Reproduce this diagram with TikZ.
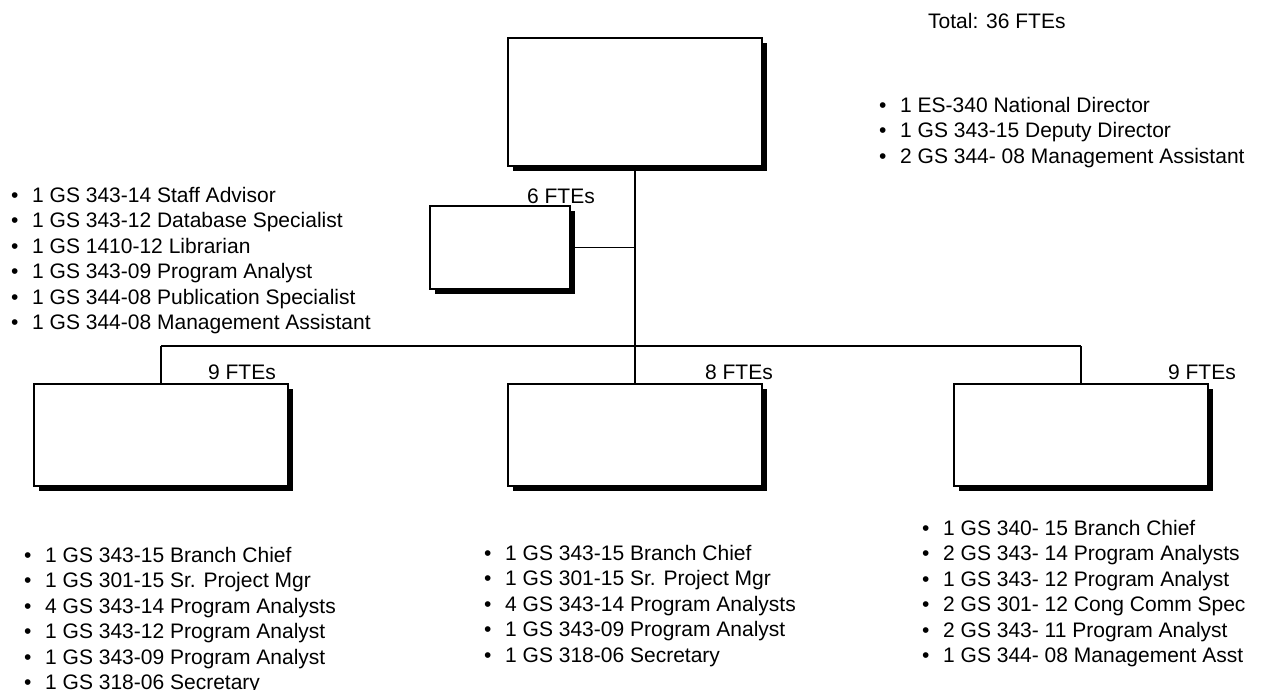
\documentclass[tikz,border=0pt]{standalone}
\usepackage{fontspec}
\setmainfont{Liberation Sans}
\usetikzlibrary{shadows}

\newcommand{\itm}[1]{\makebox[21pt][l]{\textbullet}#1}

\begin{document}
\begin{tikzpicture}[
  x=1pt, y=-1pt,
  every node/.style={font=\fontsize{21}{25.4}\selectfont, inner sep=0pt},
  unit/.style    ={draw, line width=1.6pt, fill=white,
                   drop shadow={shadow xshift=5pt, shadow yshift=-5pt,
                                fill=black, opacity=1}},
  topunit/.style ={unit, minimum width=254pt, minimum height=128pt},
  subunit/.style ={unit, minimum width=254pt, minimum height=102pt},
  staffunit/.style={unit, minimum width=140pt, minimum height=83pt},
  list/.style    ={anchor=north west, align=left},
  fte/.style     ={anchor=east},
  link/.style    ={line width=1.5pt},
]
  \useasboundingbox (0,0) rectangle (1261,689);

  % boxes
  \node[topunit]   (natl)    at (635,102)   {};
  \node[staffunit] (staff)   at (500,247.5) {};
  \node[subunit]   (brleft)  at (161,435)   {};
  \node[subunit]   (brmid)   at (635,435)   {};
  \node[subunit]   (brright) at (1081,435)  {};

  % connectors
  \coordinate (bar) at (635,346);
  \draw[link] (natl) -- (natl |- bar);
  \draw[link] (staff) -- (staff -| natl);
  \draw[link] (brleft |- bar) -- (brright |- bar);
  \foreach \b in {brleft,brmid,brright}
    \draw[link] (\b |- bar) -- (\b);

  % head counts
  \node[anchor=west] (total) at (928,21)  {Total: 36 FTEs};
  \node[fte] (ftestaff) at (595,196)  {6 FTEs};
  \node[fte] (fteleft)  at (276,372)  {9 FTEs};
  \node[fte] (ftemid)   at (773,372)  {8 FTEs};
  \node[fte] (fteright) at (1236,372) {9 FTEs};

  % position lists
  \node[list] (natllist) at (879,97) {%
    \itm{1 ES-340 National Director}\\
    \itm{1 GS 343-15 Deputy Director}\\
    \itm{2 GS 344- 08 Management Assistant}};
  \node[list] (stafflist) at (11,187) {%
    \itm{1 GS 343-14 Staff Advisor}\\
    \itm{1 GS 343-12 Database Specialist}\\
    \itm{1 GS 1410-12 Librarian}\\
    \itm{1 GS 343-09 Program Analyst}\\
    \itm{1 GS 344-08 Publication Specialist}\\
    \itm{1 GS 344-08 Management Assistant}};
  \node[list] (leftlist) at (24,547) {%
    \itm{1 GS 343-15 Branch Chief}\\
    \itm{1 GS 301-15 Sr. Project Mgr}\\
    \itm{4 GS 343-14 Program Analysts}\\
    \itm{1 GS 343-12 Program Analyst}\\
    \itm{1 GS 343-09 Program Analyst}\\
    \itm{1 GS 318-06 Secretary}};
  \node[list] (midlist) at (484,545) {%
    \itm{1 GS 343-15 Branch Chief}\\
    \itm{1 GS 301-15 Sr. Project Mgr}\\
    \itm{4 GS 343-14 Program Analysts}\\
    \itm{1 GS 343-09 Program Analyst}\\
    \itm{1 GS 318-06 Secretary}};
  \node[list] (rightlist) at (922,520) {%
    \itm{1 GS 340- 15 Branch Chief}\\
    \itm{2 GS 343- 14 Program Analysts}\\
    \itm{1 GS 343- 12 Program Analyst}\\
    \itm{2 GS 301- 12 Cong Comm Spec}\\
    \itm{2 GS 343- 11 Program Analyst}\\
    \itm{1 GS 344- 08 Management Asst}};
\end{tikzpicture}
\end{document}
